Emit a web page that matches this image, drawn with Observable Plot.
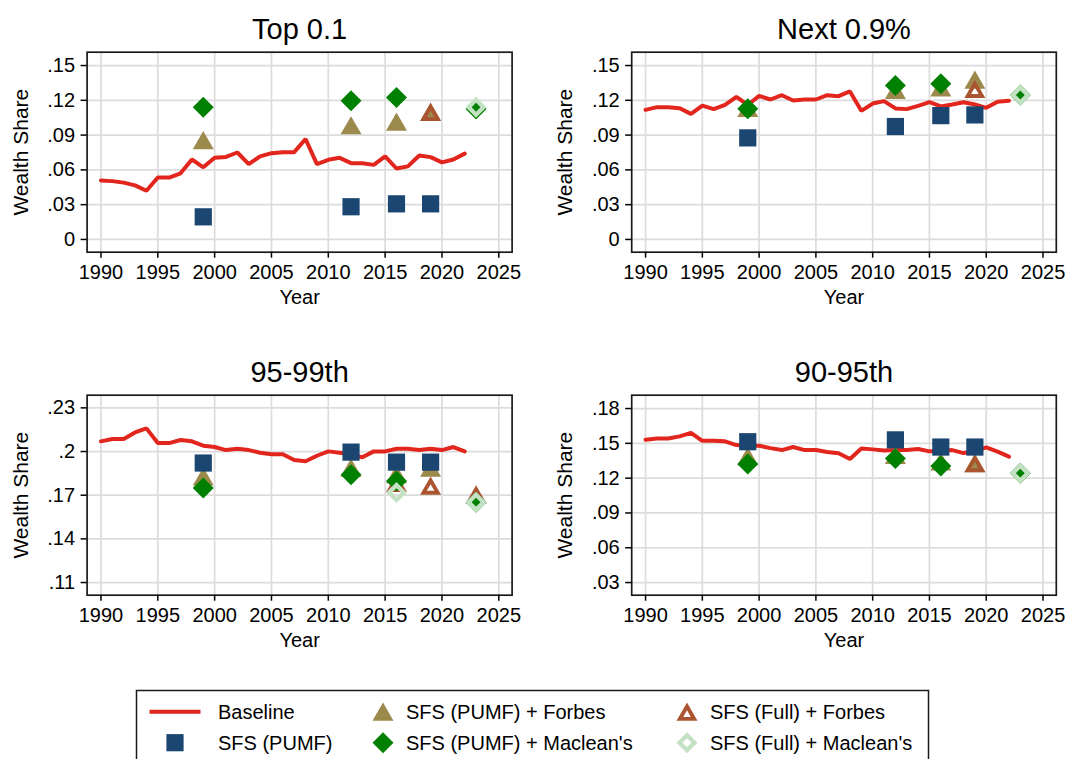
<!DOCTYPE html>
<html>
<head>
<meta charset="utf-8">
<script src="https://cdn.jsdelivr.net/npm/d3@7"></script>
<script src="https://cdn.jsdelivr.net/npm/@observablehq/plot@0.6"></script>
<style>
  body { margin: 0; background: #fff; }
  #chart { position: relative; width: 1065px; height: 759px; overflow: hidden; background: #fff;
           font-family: "Liberation Sans", Arial, Helvetica, sans-serif; }
  .panel { position: absolute; }
  .panel svg { display: block; overflow: visible; }
  #legend { position: absolute; left: 0; top: 0; }
</style>
</head>
<body>
<div id="chart"></div>
<script>
// ---- Data -------------------------------------------------------------
const years = [1990, 1991, 1992, 1993, 1994, 1995, 1996, 1997, 1998, 1999, 2000,
               2001, 2002, 2003, 2004, 2005, 2006, 2007, 2008, 2009, 2010, 2011,
               2012, 2013, 2014, 2015, 2016, 2017, 2018, 2019, 2020, 2021, 2022];

// Baseline wealth shares by group
const baselineTop01 = [0.0509, 0.0503, 0.0490, 0.0466, 0.0420, 0.0534, 0.0534, 0.0570, 0.0690, 0.0622, 0.0705,
                       0.0712, 0.0750, 0.0650, 0.0717, 0.0744, 0.0753, 0.0753, 0.0866, 0.0650, 0.0687, 0.0704,
                       0.0658, 0.0658, 0.0643, 0.0717, 0.0612, 0.0630, 0.0724, 0.0710, 0.0665, 0.0690, 0.0740];
const baselineNext09 = [0.1118, 0.1141, 0.1141, 0.1132, 0.1083, 0.1155, 0.1124, 0.1161, 0.1230, 0.1160, 0.1238,
                        0.1207, 0.1244, 0.1198, 0.1207, 0.1207, 0.1244, 0.1236, 0.1277, 0.1109, 0.1172, 0.1193,
                        0.1130, 0.1124, 0.1152, 0.1184, 0.1147, 0.1164, 0.1184, 0.1164, 0.1135, 0.1187, 0.1196];
const baseline9599 = [0.2070, 0.2086, 0.2086, 0.2131, 0.2159, 0.2058, 0.2058, 0.2079, 0.2070, 0.2040, 0.2031,
                      0.2010, 0.2019, 0.2010, 0.1992, 0.1981, 0.1981, 0.1942, 0.1933, 0.1971, 0.2001, 0.1992,
                      0.1981, 0.1960, 0.2001, 0.2001, 0.2019, 0.2019, 0.2010, 0.2019, 0.2010, 0.2031, 0.2001];
const baseline9095 = [0.1531, 0.1542, 0.1542, 0.1560, 0.1591, 0.1522, 0.1522, 0.1517, 0.1485, 0.1479, 0.1479,
                      0.1459, 0.1442, 0.1468, 0.1442, 0.1442, 0.1425, 0.1414, 0.1365, 0.1456, 0.1448, 0.1439,
                      0.1442, 0.1442, 0.1451, 0.1431, 0.1434, 0.1442, 0.1416, 0.1434, 0.1465, 0.1428, 0.1385];

// Survey-based estimates: [year, share]
const top01Pumf          = [[1999, 0.0195], [2012, 0.0282], [2016, 0.0307], [2019, 0.0307]];
const top01PumfForbes    = [[1999, 0.0856], [2012, 0.0985], [2016, 0.1017], [2019, 0.1100]];
const top01PumfMacleans  = [[1999, 0.1140], [2012, 0.1197], [2016, 0.1225], [2023, 0.1125]];
const top01FullForbes    = [[2019, 0.1100]];
const top01FullMacleans  = [[2023, 0.1140]];

const next09Pumf         = [[1999, 0.0876], [2012, 0.0974], [2016, 0.1068], [2019, 0.1074]];
const next09PumfForbes   = [[1999, 0.1135], [2012, 0.1291], [2016, 0.1311], [2019, 0.1378]];
const next09PumfMacleans = [[1999, 0.1127], [2012, 0.1327], [2016, 0.1343], [2023, 0.1245]];
const next09FullForbes   = [[2019, 0.1299]];
const next09FullMacleans = [[2023, 0.1246]];

const p9599Pumf          = [[1999, 0.1921], [2012, 0.1996], [2016, 0.1927], [2019, 0.1927]];
const p9599PumfForbes    = [[1999, 0.1830], [2012, 0.1889], [2016, 0.1845], [2019, 0.1890]];
const p9599PumfMacleans  = [[1999, 0.1750], [2012, 0.1841], [2016, 0.1798], [2023, 0.1652]];
const p9599FullForbes    = [[2016, 0.1785], [2019, 0.1766], [2023, 0.1705]];
const p9599FullMacleans  = [[2016, 0.1718], [2023, 0.1652]];

const p9095Pumf          = [[1999, 0.1514], [2012, 0.1530], [2016, 0.1468], [2019, 0.1468]];
const p9095PumfForbes    = [[1999, 0.1390], [2012, 0.1400], [2016, 0.1345], [2019, 0.1330]];
const p9095PumfMacleans  = [[1999, 0.1322], [2012, 0.1370], [2016, 0.1305], [2023, 0.1243]];
const p9095FullForbes    = [[2019, 0.1330]];
const p9095FullMacleans  = [[2023, 0.1243]];

const xTicks = [1990, 1995, 2000, 2005, 2010, 2015, 2020, 2025];
const yTicksTop = [0, 0.03, 0.06, 0.09, 0.12, 0.15];
const yTicks9599 = [0.11, 0.14, 0.17, 0.20, 0.23];
const yTicks9095 = [0.03, 0.06, 0.09, 0.12, 0.15, 0.18];

const seriesLabels = ["Baseline", "SFS (PUMF)", "SFS (PUMF) + Forbes", "SFS (PUMF) + Maclean's",
                      "SFS (Full) + Forbes", "SFS (Full) + Maclean's"];

// ---- Styling ----------------------------------------------------------
const FONT = '"Liberation Sans", Arial, Helvetica, sans-serif';
const RED = "#e2261e", NAVY = "#1b4672", OLIVE = "#9b8a4c", GREEN = "#008000",
      BROWN = "#aa5530", LIGHT = "#c3e1c3", GRID = "#dcdcdc", INK = "#1a1a1a";
const R = 8.6; // marker radius

// Marker shapes (sized from the radius Plot passes in)
const rad = size => Math.sqrt(size / Math.PI);
const squareSym = {draw(c, size) { const r = rad(size);
  c.moveTo(-r, -r); c.lineTo(r, -r); c.lineTo(r, r); c.lineTo(-r, r); c.closePath(); }};
function triPath(c, r, hole) {
  const w = 1.22 * r, h = 1.06 * r;               // half width, half height
  c.moveTo(0, -h); c.lineTo(w, h); c.lineTo(-w, h); c.closePath();
  if (hole) {                                      // inner cut-out, reversed winding
    const cy = -h + (4 * h) / 3, k = hole;          // centroid
    c.moveTo(0, cy + (-h - cy) * k); c.lineTo(-w * k, cy + (h - cy) * k); c.lineTo(w * k, cy + (h - cy) * k); c.closePath();
  }
}
function diaPath(c, r, hole) {
  const d = 1.22 * r;
  c.moveTo(0, -d); c.lineTo(d, 0); c.lineTo(0, d); c.lineTo(-d, 0); c.closePath();
  if (hole) {
    const e = d * hole;
    c.moveTo(0, -e); c.lineTo(-e, 0); c.lineTo(0, e); c.lineTo(e, 0); c.closePath();
  }
}
const triangleSym = {draw(c, size) { triPath(c, rad(size), 0); }};
const triangleHollowSym = {draw(c, size) { triPath(c, rad(size), 0.36); }};
const diamondSym = {draw(c, size) { diaPath(c, rad(size), 0); }};
const diamondHollowSym = {draw(c, size) { diaPath(c, rad(size), 0.42); }};

const shareFormat = d => d === 0 ? "0" : d.toFixed(2).replace(/^0/, "").replace(/0$/, "");
const rows = pairs => pairs.map(([year, share]) => ({year, share}));

// ---- One small-multiple panel -------------------------------------------
function panel(o) {
  const base = years.map((year, i) => ({year, share: o.baseline[i]}));
  const dot = (pairs, symbol, fill) =>
    Plot.dot(rows(pairs), {x: "year", y: "share", symbol, r: R, fill, stroke: "none"});
  return Plot.plot({
    width: o.width, height: 340,
    marginLeft: o.marginLeft, marginRight: o.marginRight, marginTop: 51.7, marginBottom: 88.3,
    x: {domain: [1988.78, 2026.17]},
    y: {domain: o.yDomain},
    style: {fontFamily: FONT, fontSize: "20px", color: "#000", background: "transparent"},
    marks: [
      Plot.gridX(xTicks, {stroke: GRID, strokeOpacity: 1, strokeWidth: 1.7}),
      Plot.gridY(o.yTicks, {stroke: GRID, strokeOpacity: 1, strokeWidth: 1.7}),
      Plot.line(base, {x: "year", y: "share", stroke: RED, strokeWidth: 4, strokeLinejoin: "miter"}),
      dot(o.pumfForbes, triangleSym, OLIVE),
      dot(o.fullForbes, triangleHollowSym, BROWN),
      dot(o.pumfMacleans, diamondSym, GREEN),
      dot(o.fullMacleans, diamondHollowSym, LIGHT),
      dot(o.pumf, squareSym, NAVY),
      Plot.frame({stroke: INK, strokeWidth: 1.7}),
      Plot.axisX(xTicks, {tickSize: 6, tickPadding: 7, fontSize: 20, strokeWidth: 1.5, label: null, tickFormat: d => String(d)}),
      Plot.axisY(o.yTicks, {tickSize: 6, tickPadding: 6, fontSize: 20, strokeWidth: 1.5, label: null, tickFormat: shareFormat}),
      Plot.text([o.title], {frameAnchor: "top", textAnchor: "middle", lineAnchor: "bottom", dy: -13.4, fontSize: 29}),
      Plot.text(["Year"], {frameAnchor: "bottom", textAnchor: "middle", lineAnchor: "bottom", dy: 51.3, fontSize: 20}),
      Plot.text(["Wealth Share"], {frameAnchor: "left", textAnchor: "middle", lineAnchor: "middle", rotate: -90, dx: -66.2, fontSize: 21})
    ]
  });
}

const chart = document.getElementById("chart");
const panels = [
  {left: 0, top: 0, width: 532, marginLeft: 86.6, marginRight: 20.4, title: "Top 0.1",
   yDomain: [-0.011, 0.1615], yTicks: yTicksTop, baseline: baselineTop01,
   pumf: top01Pumf, pumfForbes: top01PumfForbes, pumfMacleans: top01PumfMacleans,
   fullForbes: top01FullForbes, fullMacleans: top01FullMacleans},
  {left: 532, top: 0, width: 533, marginLeft: 99.2, marginRight: 9.2, title: "Next 0.9%",
   yDomain: [-0.011, 0.1615], yTicks: yTicksTop, baseline: baselineNext09,
   pumf: next09Pumf, pumfForbes: next09PumfForbes, pumfMacleans: next09PumfMacleans,
   fullForbes: next09FullForbes, fullMacleans: next09FullMacleans},
  {left: 0, top: 342.6, width: 532, marginLeft: 86.6, marginRight: 20.4, title: "95-99th",
   yDomain: [0.1013, 0.2387], yTicks: yTicks9599, baseline: baseline9599,
   pumf: p9599Pumf, pumfForbes: p9599PumfForbes, pumfMacleans: p9599PumfMacleans,
   fullForbes: p9599FullForbes, fullMacleans: p9599FullMacleans},
  {left: 532, top: 342.6, width: 533, marginLeft: 99.2, marginRight: 9.2, title: "90-95th",
   yDomain: [0.0191, 0.1915], yTicks: yTicks9095, baseline: baseline9095,
   pumf: p9095Pumf, pumfForbes: p9095PumfForbes, pumfMacleans: p9095PumfMacleans,
   fullForbes: p9095FullForbes, fullMacleans: p9095FullMacleans}
];
for (const p of panels) {
  const div = document.createElement("div");
  div.className = "panel";
  div.style.left = p.left + "px";
  div.style.top = p.top + "px";
  div.appendChild(panel(p));
  chart.appendChild(div);
}

// ---- Legend -------------------------------------------------------------
const legend = d3.select(chart).append("svg").attr("id", "legend")
  .attr("width", 1065).attr("height", 759)
  .style("font-family", FONT).style("pointer-events", "none");
legend.append("rect").attr("x", 136.5).attr("y", 690.5).attr("width", 792).attr("height", 80)
  .attr("fill", "none").attr("stroke", INK).attr("stroke-width", 1.5);
const colX = [175, 383, 687], textX = [218, 406, 710], rowY = [711.7, 742.7];
const legendItems = [
  {label: seriesLabels[0], col: 0, row: 0, line: true},
  {label: seriesLabels[1], col: 0, row: 1, symbol: squareSym, fill: NAVY},
  {label: seriesLabels[2], col: 1, row: 0, symbol: triangleSym, fill: OLIVE},
  {label: seriesLabels[3], col: 1, row: 1, symbol: diamondSym, fill: GREEN},
  {label: seriesLabels[4], col: 2, row: 0, symbol: triangleHollowSym, fill: BROWN},
  {label: seriesLabels[5], col: 2, row: 1, symbol: diamondHollowSym, fill: LIGHT}
];
for (const it of legendItems) {
  const cx = colX[it.col], cy = rowY[it.row];
  if (it.line) {
    legend.append("line").attr("x1", cx - 25.5).attr("x2", cx + 25.5).attr("y1", cy).attr("y2", cy)
      .attr("stroke", RED).attr("stroke-width", 4);
  } else {
    legend.append("path").attr("transform", `translate(${cx},${cy})`)
      .attr("d", d3.symbol(it.symbol, Math.PI * R * R)()).attr("fill", it.fill);
  }
  legend.append("text").attr("x", textX[it.col]).attr("y", cy).attr("dy", "0.35em")
    .attr("font-size", 20).attr("fill", "#000").text(it.label);
}
</script>
</body>
</html>
